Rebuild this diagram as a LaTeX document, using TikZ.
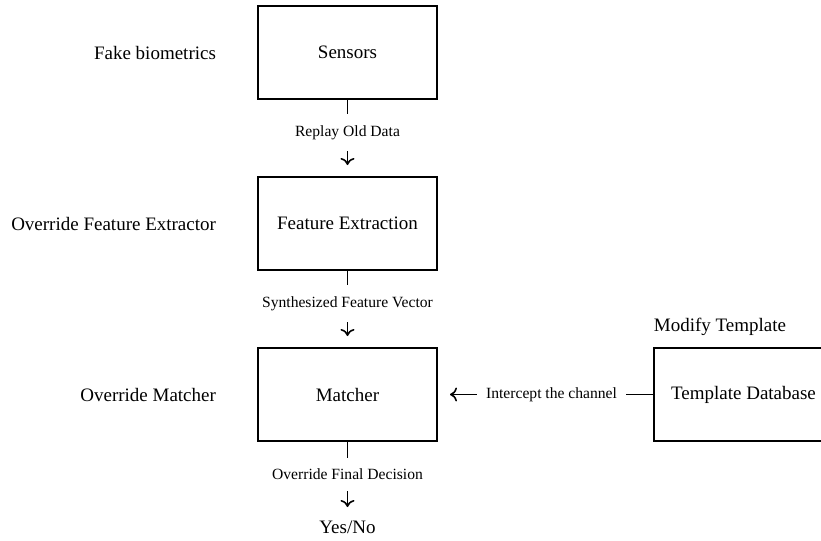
\documentclass[tikz,border=0pt]{standalone}
\usepackage{fontspec}
\setmainfont{Liberation Serif}
\usetikzlibrary{arrows.meta}

\begin{document}
\begin{tikzpicture}[x=0.5pt,y=-0.5pt,
		box/.style={draw,line width=0.9pt,minimum width=89.5pt,minimum height=46.5pt,font=\fontsize{9.5}{11}\selectfont},
		txt/.style={font=\fontsize{9.5}{11}\selectfont},
		atk/.style={txt,anchor=east},
		lbl/.style={fill=white,inner xsep=4.5pt,inner ysep=5.5pt,font=\fontsize{7.8}{9}\selectfont},
		arr/.style={line width=0.8pt,-{To[length=3.5pt,width=7pt]}}]
		\useasboundingbox (0,0) rectangle (821,541);
		
		% main chain
		\node[box] (sens) at (347.5,52.5) {Sensors};
		\node[box] (feat) at (347.5,223.5) {Feature Extraction};
		\node[box] (match) at (347.5,394.5) {Matcher};
		\node[box] (tdb) at (743.5,394.5) {Template Database};
		
		\coordinate (a1) at (347.5,165);
		\coordinate (a2) at (347.5,336);
		\coordinate (a3) at (347.5,507);
		\coordinate (a4) at (450,394.5);
		
		\draw[arr] (sens.south) -- node[lbl] {Replay Old Data} (a1);
		\draw[arr] (feat.south) -- node[lbl] {Synthesized Feature Vector} (a2);
		\draw[arr] (match.south) -- node[lbl] {Override Final Decision} (a3);
		\draw[arr] (tdb.west) -- node[lbl] {Intercept the channel} (a4);
		
		\node[txt] (yn) at (347.5,527) {Yes/No};
		
		% attacks
		\node[atk] (fake) at (223,52.5) {Fake biometrics};
		\node[atk] (ofe) at (223,224) {Override Feature Extractor};
		\node[atk] (om) at (223,394.5) {Override Matcher};
		\node[txt] (mt) at (720,327) {Modify Template};
	\end{tikzpicture}
\end{document}
